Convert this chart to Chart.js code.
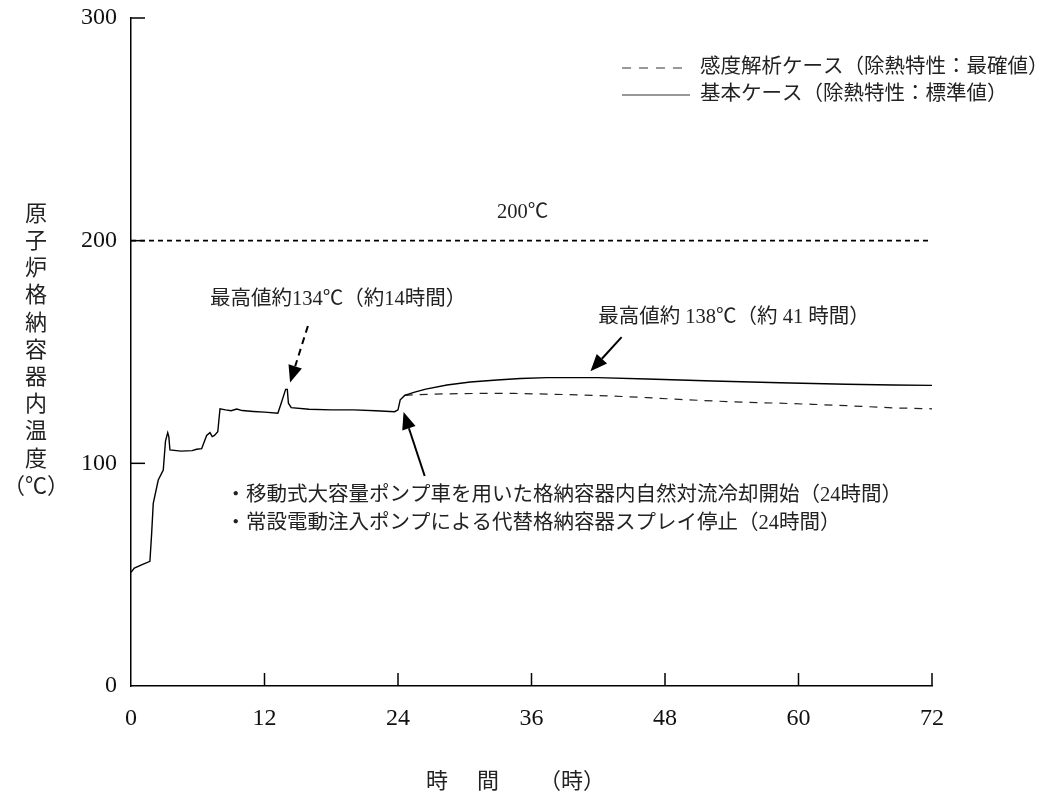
<!DOCTYPE html>
<html><head><meta charset="utf-8">
<script src="https://cdn.jsdelivr.net/npm/chart.js@4.4.1/dist/chart.umd.min.js"></script>
<style>html,body{margin:0;padding:0;background:#fff;}canvas{display:block;}</style>
</head><body>
<canvas id="c" width="1060" height="802"></canvas>
<script>
// ---- data ----
const baseTime = [0,0.3,1.0,1.7,1.85,2.0,2.45,2.9,3.1,3.3,3.4,3.5,4.5,5.5,5.9,6.35,6.8,7.1,7.3,7.5,7.8,8.0,8.5,9.0,9.5,10,11,12,13.2,13.5,13.9,14.05,14.15,14.4,16,18,20,22,23.7,24.0,24.2,24.6,25.5,26.5,28.4,30.5,32.9,35,37.4,41.9,46.4,52.3,58.3,64.3,68.5,72];
const baseTemp = [51,53,54.5,56,68,82,92.5,97,110,113.8,112,106,105.5,105.7,106.3,106.6,112.5,113.8,112,112.5,114.2,124.5,124,123.6,124.4,123.7,123.3,123,122.5,127,133.2,133.2,127,125,124.3,124,124,123.6,123.2,124,128.5,130.5,132,133.3,135.2,136.5,137.4,138.1,138.5,138.5,137.9,137,136.2,135.5,135.2,135];
const sensTime = [24.6,25.4,28,31.4,34.4,37.4,40.4,43.4,46.4,49.3,52.3,55.3,58.3,61.3,64.3,68.5,72];
const sensTemp = [130.5,130.8,131.2,131.4,131.4,131.1,130.7,130.2,129.5,128.7,128,127.4,127,126.5,125.9,124.9,124.5];
const limitTime = [0,72];
const limitTemp = [200,200];
const xTicks = [0,12,24,36,48,60,72];
const yTicks = [0,100,200,300];
const legendLabels = ['感度解析ケース（除熱特性：最確値）','基本ケース（除熱特性：標準値）'];
const yTitleChars = ['原','子','炉','格','納','容','器','内','温','度','（℃）'];
const xTitleParts = ['時','間','（時）'];
const notes = [
  {text:'最高値約134℃（約14時間）', t:7.1, v:173.4},
  {text:'最高値約 138℃（約 41 時間）', t:42.0, v:165.3},
  {text:'200℃', t:35.2, v:212.4, center:true},
  {text:'・移動式大容量ポンプ車を用いた格納容器内自然対流冷却開始（24時間）', t:8.5, v:85.3},
  {text:'・常設電動注入ポンプによる代替格納容器スプレイ停止（24時間）', t:8.5, v:72.8}
];
const arrows = [
  {from:[15.9,161.7], to:[14.3,136.3], dashed:true},
  {from:[44.1,156.7], to:[41.3,141.3], dashed:false},
  {from:[26.4,94.3], to:[24.5,123.0], dashed:false}
];

const toXY = (ts, vs) => ts.map((t,i)=>({x:t, y:vs[i]}));
const SERIF = "'Liberation Serif','Noto Sans CJK JP'";
const CJK = "'Liberation Serif','Noto Sans CJK JP'";

const decor = {
  id:'decor',
  afterDraw(chart){
    const ctx = chart.ctx, xs = chart.scales.x, ys = chart.scales.y;
    const ca = chart.chartArea;
    ctx.save();
    // inward tick marks
    ctx.strokeStyle = '#000'; ctx.lineWidth = 1.5;
    yTicks.forEach(v=>{ if(v===0) return; const p = ys.getPixelForValue(v);
      ctx.beginPath(); ctx.moveTo(ca.left, p); ctx.lineTo(ca.left+14, p); ctx.stroke(); });
    xTicks.forEach(v=>{ if(v===0) return; const p = xs.getPixelForValue(v);
      ctx.beginPath(); ctx.moveTo(p, ca.bottom); ctx.lineTo(p, ca.bottom-13); ctx.stroke(); });
    // legend
    ctx.fillStyle = '#222'; ctx.font = "20.5px " + CJK; ctx.textBaseline = 'middle'; ctx.textAlign='left';
    const lx0 = 622, lx1 = 690, ly = [68, 95];
    ctx.lineWidth = 1.2; ctx.strokeStyle='#333';
    ctx.setLineDash([9,8]); ctx.beginPath(); ctx.moveTo(lx0, ly[0]); ctx.lineTo(lx1, ly[0]); ctx.stroke();
    ctx.setLineDash([]); ctx.beginPath(); ctx.moveTo(lx0, ly[1]); ctx.lineTo(lx1, ly[1]); ctx.stroke();
    ctx.fillText(legendLabels[0], 700, ly[0]);
    ctx.fillText(legendLabels[1], 700, ly[1]);
    // notes
    notes.forEach(n=>{
      ctx.textAlign = n.center ? 'center' : 'left';
      ctx.fillText(n.text, xs.getPixelForValue(n.t), ys.getPixelForValue(n.v));
    });
    // arrows
    arrows.forEach(a=>{
      const x0 = xs.getPixelForValue(a.from[0]), y0 = ys.getPixelForValue(a.from[1]);
      const x1 = xs.getPixelForValue(a.to[0]), y1 = ys.getPixelForValue(a.to[1]);
      const ang = Math.atan2(y1-y0, x1-x0), hl = 17, hw = 7;
      const bx = x1 - hl*Math.cos(ang), by = y1 - hl*Math.sin(ang);
      ctx.strokeStyle='#000'; ctx.lineWidth = 2;
      ctx.setLineDash(a.dashed ? [7,5] : []);
      ctx.beginPath(); ctx.moveTo(x0,y0); ctx.lineTo(bx,by); ctx.stroke();
      ctx.setLineDash([]);
      ctx.fillStyle='#000';
      ctx.beginPath(); ctx.moveTo(x1,y1);
      ctx.lineTo(bx + hw*Math.sin(ang), by - hw*Math.cos(ang));
      ctx.lineTo(bx - hw*Math.sin(ang), by + hw*Math.cos(ang));
      ctx.closePath(); ctx.fill();
    });
    // axis titles
    ctx.fillStyle = '#222'; ctx.textAlign='center'; ctx.font = "22px " + CJK;
    yTitleChars.forEach((ch,i)=>{ ctx.fillText(ch, 36, 215 + i*27.2); });
    ctx.font = "22px " + CJK;
    const xtx = [437, 488, 572];
    xTitleParts.forEach((p,i)=>{ ctx.fillText(p, xtx[i], 782); });
    ctx.restore();
  }
};

new Chart(document.getElementById('c'), {
  type:'line',
  data:{ datasets:[
    {label:'基本ケース', data:toXY(baseTime, baseTemp), borderColor:'#000', borderWidth:1.4, pointRadius:0, tension:0, fill:false},
    {label:'感度解析ケース', data:toXY(sensTime, sensTemp), borderColor:'#222', borderWidth:1.2, borderDash:[8,7], pointRadius:0, tension:0, fill:false},
    {label:'200℃', data:toXY(limitTime, limitTemp), borderColor:'#000', borderWidth:1.8, borderDash:[5,4], pointRadius:0, fill:false}
  ]},
  options:{
    responsive:false, animation:false, devicePixelRatio:1,
    layout:{padding:{left:0, right:128, top:18, bottom:0}},
    plugins:{legend:{display:false}, tooltip:{enabled:false}},
    scales:{
      x:{type:'linear', min:0, max:72,
        afterBuildTicks:(s)=>{ s.ticks = xTicks.map(v=>({value:v})); },
        afterFit:(s)=>{ s.height = 116; s.paddingLeft = 0; s.paddingRight = 0; },
        ticks:{font:{family:SERIF, size:24}, color:'#111', padding:18, maxRotation:0, autoSkip:false},
        grid:{display:false, drawTicks:false},
        border:{display:true, color:'#000', width:1.5}},
      y:{min:0, max:300,
        afterBuildTicks:(s)=>{ s.ticks = yTicks.map(v=>({value:v})); },
        afterFit:(s)=>{ s.width = 131; s.paddingTop = 0; s.paddingBottom = 0; },
        ticks:{font:{family:SERIF, size:24}, color:'#111', padding:14},
        grid:{display:false, drawTicks:false},
        border:{display:true, color:'#000', width:1.5}}
    }
  },
  plugins:[decor]
});
</script>
</body></html>
